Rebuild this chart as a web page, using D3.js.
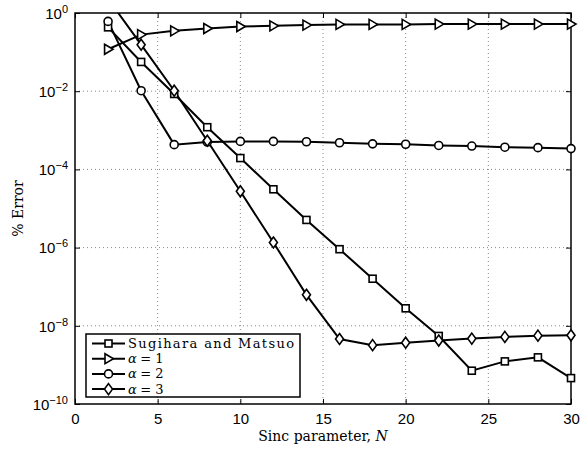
<!DOCTYPE html>
<html>
<head>
<meta charset="utf-8">
<script src="https://cdn.jsdelivr.net/npm/d3@7"></script>
<style>
  body { margin: 0; background: #fff; }
  .tick text { font-family: "Liberation Sans", Arial, sans-serif; font-size: 15px; fill: #000; }
</style>
</head>
<body>
<div class="chart"></div>
<script>
var N = [2, 4, 6, 8, 10, 12, 14, 16, 18, 20, 22, 24, 26, 28, 30];
var sugihara = [0.43, 0.056, 0.0085, 1.2e-3, 1.95e-4, 3.1e-5, 5.1e-6, 9.1e-7, 1.6e-7, 2.8e-8, 5.5e-9, 7.1e-10, 1.23e-9, 1.56e-9, 4.6e-10];
var alpha1 = [0.118, 0.28, 0.35, 0.40, 0.45, 0.47, 0.49, 0.51, 0.51, 0.51, 0.52, 0.52, 0.52, 0.52, 0.52];
var alpha2 = [0.61, 0.0103, 4.3e-4, 5.0e-4, 5.2e-4, 5.2e-4, 5.1e-4, 4.8e-4, 4.5e-4, 4.4e-4, 4.1e-4, 3.95e-4, 3.7e-4, 3.6e-4, 3.4e-4];
var alpha3 = [2.3, 0.155, 0.0103, 5.4e-4, 2.75e-5, 1.35e-6, 6.2e-8, 4.6e-9, 3.2e-9, 3.7e-9, 4.2e-9, 4.7e-9, 5.2e-9, 5.6e-9, 5.7e-9];
var seriesNames = ['Sugihara and Matsuo', 'α = 1', 'α = 2', 'α = 3'];
var xTicks = [0, 5, 10, 15, 20, 25, 30];
var yExps = [0, -2, -4, -6, -8, -10];

var margin = { top: 13, right: 9, bottom: 47, left: 75 };
var width = 580 - margin.left - margin.right;
var height = 451 - margin.top - margin.bottom;
var serif = '"DejaVu Serif", "Liberation Serif", serif';

var svg = d3.select('.chart')
  .append('svg')
    .attr('width', 580)
    .attr('height', 451)
  .append('g')
    .attr('transform', 'translate(' + margin.left + ',' + margin.top + ')');

var xScale = d3.scaleLinear().domain([0, 30]).range([0, width]);
var yScale = d3.scaleLog().domain([1e-10, 1]).range([height, 0]);

// grid
svg.append('g')
  .selectAll('line')
  .data(xTicks.slice(1, -1))
  .enter().append('line')
    .attr('x1', d => xScale(d)).attr('x2', d => xScale(d))
    .attr('y1', 0).attr('y2', height)
    .attr('stroke', '#888').attr('stroke-dasharray', '1,3');
svg.append('g')
  .selectAll('line')
  .data(yExps.slice(1, -1))
  .enter().append('line')
    .attr('y1', d => yScale(Math.pow(10, d))).attr('y2', d => yScale(Math.pow(10, d)))
    .attr('x1', 0).attr('x2', width)
    .attr('stroke', '#888').attr('stroke-dasharray', '1,3');

// axes (inward ticks, all four sides)
var yVals = yExps.map(e => Math.pow(10, e));
svg.append('g')
  .attr('transform', `translate(0, ${height})`)
  .call(d3.axisBottom(xScale).tickValues(xTicks).tickSize(-5).tickPadding(9))
  .call(g => g.select('.domain').remove());
svg.append('g')
  .call(d3.axisTop(xScale).tickValues(xTicks).tickSize(-5).tickFormat(''))
  .call(g => g.select('.domain').remove());
var yAxisG = svg.append('g')
  .call(d3.axisLeft(yScale).tickValues(yVals).tickSize(-5).tickFormat(''))
  .call(g => g.select('.domain').remove());
svg.append('g')
  .attr('transform', `translate(${width}, 0)`)
  .call(d3.axisRight(yScale).tickValues(yVals).tickSize(-5).tickFormat(''))
  .call(g => g.select('.domain').remove());

yAxisG.selectAll('.tick')
  .append('text')
    .attr('x', -7)
    .attr('dy', '0.35em')
    .attr('text-anchor', 'end')
    .each(function (d) {
      var t = d3.select(this);
      var e = Math.round(Math.log10(d));
      t.append('tspan').text('10');
      t.append('tspan').attr('dy', '-0.55em').attr('font-size', '11px')
        .text(e === 0 ? '0' : '\u2212' + Math.abs(e));
    });

svg.append('rect')
  .attr('width', width).attr('height', height)
  .attr('fill', 'none').attr('stroke', '#000').attr('stroke-width', 1.5);

svg.append('clipPath').attr('id', 'clip')
  .append('rect').attr('width', width).attr('height', height);

var seriesData = [sugihara, alpha1, alpha2, alpha3];
var markers = ['square', 'triangle', 'circle', 'diamond'];

function drawMarker(g, type, x, y) {
  if (type === 'square') {
    g.append('rect').attr('x', x - 3.5).attr('y', y - 3.5).attr('width', 7).attr('height', 7);
  } else if (type === 'circle') {
    g.append('circle').attr('cx', x).attr('cy', y).attr('r', 4);
  } else if (type === 'triangle') {
    g.append('path').attr('d', `M${x - 3.5},${y - 5}L${x + 5},${y}L${x - 3.5},${y + 5}Z`);
  } else {
    g.append('path').attr('d', `M${x},${y - 5.5}L${x + 4},${y}L${x},${y + 5.5}L${x - 4},${y}Z`);
  }
}

var line = d3.line()
  .x(d => xScale(d[0]))
  .y(d => yScale(d[1]));

var plot = svg.append('g').attr('clip-path', 'url(#clip)');
seriesData.forEach(function (vals) {
  var pts = N.map((n, j) => [n, vals[j]]);
  plot.append('path')
    .attr('d', line(pts))
    .attr('fill', 'none').attr('stroke', '#000').attr('stroke-width', 2);
});
seriesData.forEach(function (vals, i) {
  var g = svg.append('g').attr('fill', '#fff').attr('stroke', '#000').attr('stroke-width', 1.6);
  N.forEach(function (n, j) {
    if (vals[j] > 1) return;
    drawMarker(g, markers[i], xScale(n), yScale(vals[j]));
  });
});

// legend
var legend = svg.append('g').attr('transform', 'translate(11, 321)');
legend.append('rect')
  .attr('width', 214).attr('height', 63)
  .attr('fill', '#fff').attr('stroke', '#000').attr('stroke-width', 1.5);
seriesNames.forEach(function (name, i) {
  var y = 9.5 + i * 15.2;
  legend.append('line')
    .attr('x1', 6).attr('x2', 39).attr('y1', y).attr('y2', y)
    .attr('stroke', '#000').attr('stroke-width', 2);
  var g = legend.append('g').attr('fill', '#fff').attr('stroke', '#000').attr('stroke-width', 1.6);
  drawMarker(g, markers[i], 22.5, y);
  var t = legend.append('text')
    .attr('x', 42).attr('y', y).attr('dy', '0.35em')
    .attr('font-family', serif)
    .attr('font-size', '13px');
  if (i === 0) {
    t.attr('textLength', 166).attr('lengthAdjust', 'spacing').text(name);
  } else {
    t.append('tspan').attr('font-style', 'italic').text('α');
    t.append('tspan').attr('x', 50).text(name.slice(1));
  }
});

// axis labels
var xl = svg.append('text')
  .attr('x', width / 2).attr('y', height + 37)
  .attr('text-anchor', 'middle')
  .attr('font-family', serif)
  .attr('font-size', '14px');
xl.append('tspan').text('Sinc parameter, ');
xl.append('tspan').attr('font-style', 'italic').text('N');

svg.append('text')
  .attr('transform', `translate(-52, ${height / 2}) rotate(-90)`)
  .attr('text-anchor', 'middle')
  .attr('font-family', serif)
  .attr('font-size', '14px')
  .text('% Error');
</script>
</body>
</html>
